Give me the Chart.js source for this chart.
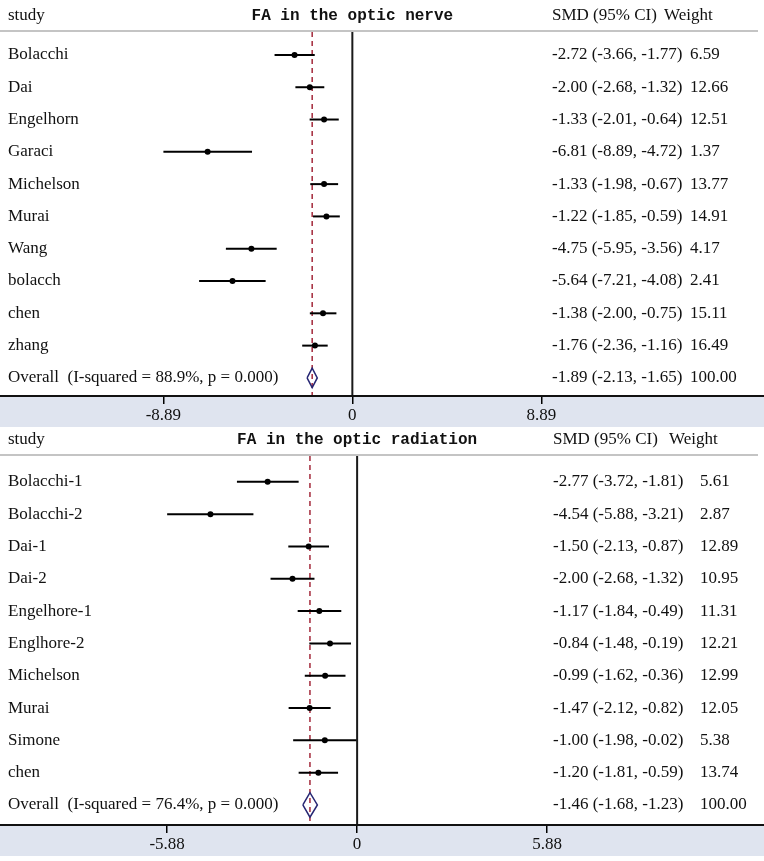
<!DOCTYPE html>
<html>
<head>
<meta charset="utf-8">
<script src="https://cdn.jsdelivr.net/npm/chart.js@4"></script>
<style>
	body { margin: 0; background: #fff; width: 764px; height: 861px; overflow: hidden; position: relative; }
	canvas { position: absolute; left: 0; }
	#nerve { top: 0; }
	#radiation { top: 427px; }
</style>
</head>
<body>
<canvas id="nerve" width="764" height="427"></canvas>
<canvas id="radiation" width="764" height="434"></canvas>
<script>
// FA in the optic nerve
const nerveStudies = ["Bolacchi", "Dai", "Engelhorn", "Garaci", "Michelson", "Murai", "Wang", "bolacch", "chen", "zhang"];
const nerveSMD = [-2.72, -2.00, -1.33, -6.81, -1.33, -1.22, -4.75, -5.64, -1.38, -1.76];
const nerveLow = [-3.66, -2.68, -2.01, -8.89, -1.98, -1.85, -5.95, -7.21, -2.00, -2.36];
const nerveHigh = [-1.77, -1.32, -0.64, -4.72, -0.67, -0.59, -3.56, -4.08, -0.75, -1.16];
const nerveWeight = [6.59, 12.66, 12.51, 1.37, 13.77, 14.91, 4.17, 2.41, 15.11, 16.49];
const nerveOverall = [-1.89, -2.13, -1.65, 100.00]; // SMD, low, high, weight
const nerveTicks = [-8.89, 0, 8.89];
const nerveTickLabels = ["-8.89", "0", "8.89"];

// FA in the optic radiation
const radStudies = ["Bolacchi-1", "Bolacchi-2", "Dai-1", "Dai-2", "Engelhore-1", "Englhore-2", "Michelson", "Murai", "Simone", "chen"];
const radSMD = [-2.77, -4.54, -1.50, -2.00, -1.17, -0.84, -0.99, -1.47, -1.00, -1.20];
const radLow = [-3.72, -5.88, -2.13, -2.68, -1.84, -1.48, -1.62, -2.12, -1.98, -1.81];
const radHigh = [-1.81, -3.21, -0.87, -1.32, -0.49, -0.19, -0.36, -0.82, -0.02, -0.59];
const radWeight = [5.61, 2.87, 12.89, 10.95, 11.31, 12.21, 12.99, 12.05, 5.38, 13.74];
const radOverall = [-1.46, -1.68, -1.23, 100.00];
const radTicks = [-5.88, 0, 5.88];
const radTickLabels = ["-5.88", "0", "5.88"];

const SERIF = "17px 'Liberation Serif', 'Times New Roman', serif";
const MONO = "bold 16px 'Liberation Mono', 'DejaVu Sans Mono', monospace";

// shaded axis band, header rule, axis rule and the text columns
const forestText = {
	id: "forestText",
	beforeDraw(chart, args, o) {
		const ctx = chart.ctx, area = chart.chartArea, xs = chart.scales.x;
		ctx.save();
		ctx.fillStyle = "#dfe4ef";
		ctx.fillRect(0, area.bottom, chart.width, xs.bottom - area.bottom);
		ctx.strokeStyle = "#c4c4c4";
		ctx.lineWidth = 2;
		ctx.beginPath();
		ctx.moveTo(0, area.top - 1);
		ctx.lineTo(758, area.top - 1);
		ctx.stroke();
		ctx.restore();
	},
	afterDraw(chart, args, o) {
		const ctx = chart.ctx, area = chart.chartArea, ys = chart.scales.y, xs = chart.scales.x;
		ctx.save();
		ctx.strokeStyle = "#111";
		ctx.lineWidth = 2;
		ctx.beginPath();
		ctx.moveTo(0, area.bottom);
		ctx.lineTo(chart.width, area.bottom);
		ctx.stroke();

		ctx.fillStyle = "#111";
		ctx.textBaseline = "middle";
		const hy = area.top - 16;
		ctx.font = SERIF;
		ctx.textAlign = "left";
		ctx.fillText("study", 8, hy);
		ctx.fillText("SMD (95% CI)", o.ciX, hy);
		ctx.fillText("Weight", o.wHeadX, hy);
		ctx.font = MONO;
		ctx.textAlign = "center";
		ctx.fillText(o.title, xs.getPixelForValue(0), hy);

		ctx.font = SERIF;
		ctx.textAlign = "left";
		const fmt = (e, l, h) => `${e.toFixed(2)} (${l.toFixed(2)}, ${h.toFixed(2)})`;
		o.labels.forEach((name, i) => {
			const y = ys.getPixelForValue(i);
			ctx.fillText(name, 8, y);
			ctx.fillText(fmt(o.est[i], o.lo[i], o.hi[i]), o.ciX, y);
			ctx.fillText(o.weight[i].toFixed(2), o.wX, y);
		});
		const n = o.labels.length, y = ys.getPixelForValue(n);
		ctx.fillText(o.overallLabel, 8, y);
		ctx.fillText(fmt(o.overall[0], o.overall[1], o.overall[2]), o.ciX, y);
		ctx.fillText(o.overall[3].toFixed(2), o.wX, y);
		ctx.restore();
	}
};

function forestPlot(id, p) {
	const n = p.labels.length;
	const datasets = [];
	datasets.push({
		type: "line", order: 6,
		data: [{ x: 0, y: p.yMin }, { x: 0, y: p.yMax }],
		borderColor: "#1a1a1a", borderWidth: 2, pointRadius: 0
	});
	datasets.push({
		type: "line", order: 5,
		data: [{ x: p.overall[0], y: p.yMin }, { x: p.overall[0], y: p.yMax }],
		borderColor: "#a3283a", borderWidth: 1.5, borderDash: [5, 4], pointRadius: 0
	});
	p.labels.forEach((s, i) => {
		datasets.push({
			type: "line", order: 4,
			data: [{ x: p.lo[i], y: i }, { x: p.hi[i], y: i }],
			borderColor: "#000", borderWidth: 2, pointRadius: 0
		});
	});
	const [oe, ol, oh] = p.overall;
	datasets.push({
		type: "line", order: 2,
		data: [{ x: ol, y: n }, { x: oe, y: n - p.dh }, { x: oh, y: n }, { x: oe, y: n + p.dh }, { x: ol, y: n }],
		borderColor: "#262673", borderWidth: 1.5, pointRadius: 0, fill: false, tension: 0
	});
	datasets.push({
		type: "scatter", order: 1,
		data: p.est.map((v, i) => ({ x: v, y: i })),
		backgroundColor: "#000", borderColor: "#000", borderWidth: 0, pointRadius: 3, pointStyle: "circle"
	});

	return new Chart(document.getElementById(id), {
		type: "scatter",
		data: { datasets },
		options: {
			responsive: false,
			animation: false,
			events: [],
			layout: { padding: { top: p.padTop, bottom: p.padBottom, left: 0, right: 0 } },
			plugins: {
				legend: { display: false },
				tooltip: { enabled: false },
				forestText: {
					labels: p.labels, est: p.est, lo: p.lo, hi: p.hi, weight: p.weight,
					overall: p.overall, overallLabel: p.overallLabel, title: p.title,
					ciX: p.ciX, wX: p.wX, wHeadX: p.wHeadX
				}
			},
			scales: {
				x: {
					type: "linear",
					min: p.xMin, max: p.xMax,
					afterBuildTicks: (axis) => { axis.ticks = p.ticks.map(v => ({ value: v })); },
					afterFit: (axis) => { axis.height = 31; },
					ticks: {
						autoSkip: false, maxRotation: 0, padding: 1,
						color: "#111", font: { family: "'Liberation Serif', serif", size: 17 },
						callback: (v, i) => p.tickLabels[i]
					},
					grid: { drawOnChartArea: false, drawTicks: true, tickLength: 8, color: "#000", lineWidth: 1.5 },
					border: { display: false }
				},
				y: {
					type: "linear", display: false, reverse: true,
					min: p.yMin, max: p.yMax
				}
			}
		},
		plugins: [forestText]
	});
}

forestPlot("nerve", {
	labels: nerveStudies, est: nerveSMD, lo: nerveLow, hi: nerveHigh, weight: nerveWeight,
	overall: nerveOverall, overallLabel: "Overall  (I-squared = 88.9%, p = 0.000)",
	title: "FA in the optic nerve", ticks: nerveTicks, tickLabels: nerveTickLabels,
	xMin: -16.39, xMax: 19.18, yMin: -0.71, yMax: 10.56, dh: 0.3,
	padTop: 32, padBottom: 0, ciX: 552, wX: 690, wHeadX: 664
});

forestPlot("radiation", {
	labels: radStudies, est: radSMD, lo: radLow, hi: radHigh, weight: radWeight,
	overall: radOverall, overallLabel: "Overall  (I-squared = 76.4%, p = 0.000)",
	title: "FA in the optic radiation", ticks: radTicks, tickLabels: radTickLabels,
	xMin: -10.93, xMax: 12.47, yMin: -0.80, yMax: 10.62, dh: 0.38,
	padTop: 29, padBottom: 5, ciX: 553, wX: 700, wHeadX: 669
});
</script>
</body>
</html>
